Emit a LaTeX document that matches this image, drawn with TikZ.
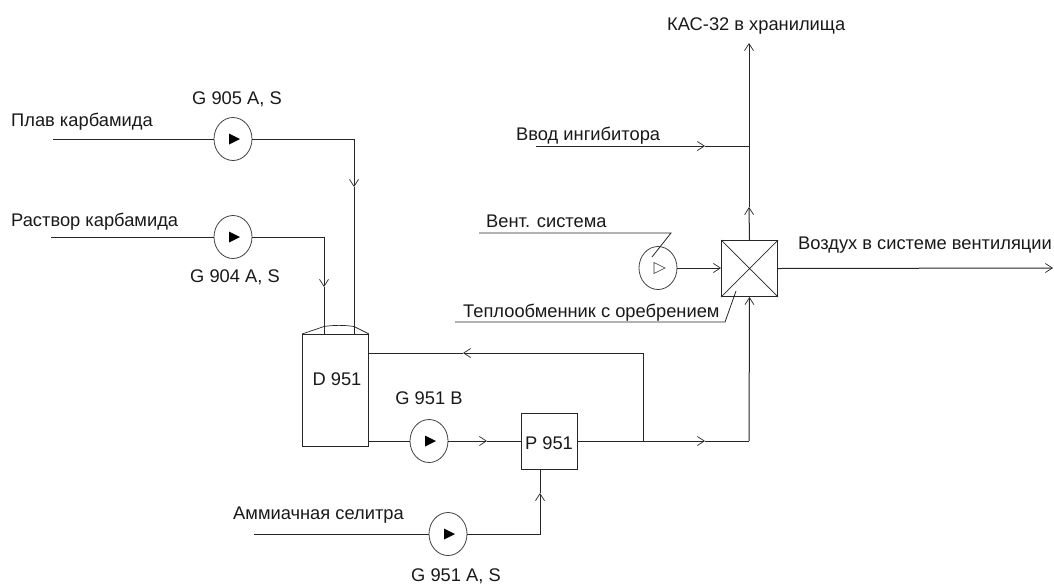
\documentclass[tikz,border=0pt]{standalone}
\usepackage{fontspec}
\setmainfont{Liberation Sans}
\usetikzlibrary{shapes.geometric,arrows.meta,calc}
\tikzset{
  ln/.style={line width=1pt,black!85},
  flow/.style={ln,-{Straight Barb[length=7pt,width=9pt,line width=0.7pt]}},
  pump/.style={ellipse,draw=black!75,line width=0.8pt,minimum width=38pt,minimum height=43pt,inner sep=0pt},
  box/.style={rectangle,draw=black!85,line width=1pt,inner sep=0pt,anchor=north west},
  txt/.style={font=\fontsize{18.3}{21}\selectfont,inner sep=0pt,text=black!90,yshift=-1.5pt}
}
\begin{document}
\begin{tikzpicture}[x=1pt,y=-1pt]
\useasboundingbox (0,0) rectangle (1054,584);
% equipment
\node[pump] (p905) at (233,139) {};
\node[pump] (p904) at (233,237) {};
\node[pump] (pB) at (429,441) {};
\node[pump] (pA) at (448,534) {};
\node[pump] (pV) at (658,268) {};
\node[box,minimum width=66pt,minimum height=112pt] (d) at (302,334) {};
\node[box,minimum width=56pt,minimum height=56pt] (r) at (521,413) {};
\node[box,minimum width=56pt,minimum height=56pt] (x) at (721,240) {};
\draw[ln,line width=0.7pt] (x.north west) -- (x.south east) (x.north east) -- (x.south west);
\draw[ln,line width=0.7pt] (d.north west) -- (324,326.5) .. controls (334,325) and (344,325) .. (354,326.5) -- (d.north east);
\foreach \p in {p905,p904,pB,pA}
  \fill ([shift={(-4,-5.5)}]\p.center) -- ([shift={(7,0)}]\p.center) -- ([shift={(-4,5.5)}]\p.center) -- cycle;
\draw[line width=0.6pt,black!80] ([shift={(-4,-5.5)}]pV.center) -- ([shift={(7,0)}]pV.center) -- ([shift={(-4,5.5)}]pV.center) -- cycle;
% free ends and bends
\coordinate (s1) at (53,139);
\coordinate (s2) at (51,237);
\coordinate (s3) at (254,534);
\coordinate (s4) at (536,146);
\coordinate (c1) at (354,139);
\coordinate (c1m) at (354,187);
\coordinate (c1e) at (354,334);
\coordinate (c2) at (324,237);
\coordinate (c2m) at (324,287);
\coordinate (c2e) at (324,334);
\coordinate (dr) at (368,353);
\coordinate (dl) at (368,441);
\coordinate (rm) at (463,353);
\coordinate (jn) at (643,441);
\coordinate (rc) at (643,353);
\coordinate (bm) at (487,441);
\coordinate (om) at (705,441);
\coordinate (oc) at (749,441);
\coordinate (rb) at (540,469);
\coordinate (ab) at (540,534);
\coordinate (am) at (540,493);
\coordinate (j2) at (749,146);
\coordinate (im) at (705,146);
\coordinate (top) at (749,43);
\coordinate (xm) at (749,207);
\coordinate (out) at (1053,268);
% connectors
\draw[ln] (s1) -- (p905);
\draw[ln] (s2) -- (p904);
\draw[ln] (s3) -- (pA);
\draw[flow] (p905) -- (c1) -- (c1m);
\draw[ln] (c1m) -- (c1e);
\draw[flow] (p904) -- (c2) -- (c2m);
\draw[ln] (c2m) -- (c2e);
\draw[ln] (dl) -- (pB);
\draw[flow] (pB) -- (bm);
\draw[ln] (bm) -- (r.west |- bm);
\draw[flow] (pA) -- (ab) -- (am);
\draw[ln] (am) -- (rb);
\draw[ln] (r.east |- jn) -- (jn);
\draw[flow] (jn) -- (om);
\draw[ln] (om) -- (oc);
\draw[flow] (oc) -- (x.south);
\draw[flow] (jn) -- (rc) -- (rm);
\draw[ln] (rm) -- (dr);
\draw[flow] (x.north) -- (xm);
\draw[flow] (xm) -- (top);
\draw[flow] (s4) -- (im);
\draw[ln] (im) -- (j2);
\draw[flow] (pV) -- (x.west |- pV);
\draw[flow] (x.east) -- (out);
% leaders
\draw[ln,line width=0.8pt] (479,233) -- (671,233) -- (652,257);
\draw[ln,line width=0.8pt] (455,322) -- (725,322) -- (736,291);
% labels
\node[txt] (t1) at (237,98) {G 905 A, S};
\node[txt] (t2) at (235,276) {G 904 A, S};
\node[txt] (t3) at (429,397) {G 951 B};
\node[txt] (t4) at (456,575) {G 951 A, S};
\node[txt] (t5) at (337,378) {D 951};
\node[txt] (t6) at (549,442) {P 951};
\node[txt,anchor=west] (t7) at (11,120) {Плав карбамида};
\node[txt,anchor=west] (t8) at (11,220) {Раствор карбамида};
\node[txt,anchor=west] (t9) at (233,514) {Аммиачная селитра};
\node[txt,anchor=west] (t10) at (516,134) {Ввод ингибитора};
\node[txt,anchor=west] (t11) at (486,220) {Вент. система};
\node[txt,anchor=west] (t12) at (463,311) {Теплообменник с оребрением};
\node[txt,anchor=west] (t13) at (798,244) {Воздух в системе вентиляции};
\node[txt,anchor=west] (t14) at (667,25) {КАС-32 в хранилища};
\end{tikzpicture}
\end{document}
